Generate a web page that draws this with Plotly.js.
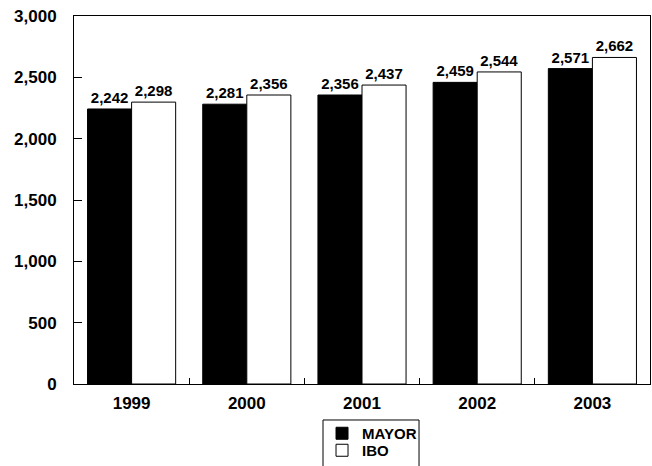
<!DOCTYPE html>
<html>
<head>
<meta charset="utf-8">
<script src="https://cdn.plot.ly/plotly-3.0.1.min.js"></script>
<style>html,body{margin:0;padding:0;background:#fff;}#chart{width:652px;height:466px;}</style>
</head>
<body>
<div id="chart"></div>
<script>
const years = ["1999", "2000", "2001", "2002", "2003"];
const mayor = [2242, 2281, 2356, 2459, 2571];
const ibo = [2298, 2356, 2437, 2544, 2662];
const yTicks = [0, 500, 1000, 1500, 2000, 2500, 3000];

const F = "Liberation Sans, Arial, sans-serif";
const tickFont = {family: F, size: 17, color: "#000", weight: "bold"};
const labelFont = {family: F, size: 15, color: "#000", weight: "bold"};

const traces = [
  {type: "bar", name: "MAYOR", x: years, y: mayor, legend: "legend",
   marker: {color: "#000", line: {color: "#000", width: 1}},
   texttemplate: "%{y:,}", textposition: "outside", cliponaxis: false,
   textfont: labelFont},
  {type: "bar", name: "IBO", x: years, y: ibo, legend: "legend2",
   marker: {color: "#fff", line: {color: "#000", width: 1}},
   texttemplate: "%{y:,}", textposition: "outside", cliponaxis: false,
   textfont: labelFont},
  // invisible helper so the label axis (y2) is drawn
  {type: "scatter", mode: "markers", x: years, y: mayor, yaxis: "y2",
   marker: {opacity: 0}, showlegend: false, hoverinfo: "skip"}
];

const legendBase = {xanchor: "left", yanchor: "top", borderwidth: 0,
  bgcolor: "rgba(0,0,0,0)", font: labelFont, orientation: "v", itemwidth: 30};

const layout = {
  width: 652, height: 466,
  margin: {l: 74, r: 2, t: 16, b: 82, autoexpand: false},
  paper_bgcolor: "#fff", plot_bgcolor: "#fff",
  barmode: "group", bargap: 0.235, bargroupgap: 0,
  showlegend: true,
  legend: Object.assign({}, legendBase, {x: 0.4306, y: -0.0897}),
  legend2: Object.assign({}, legendBase, {x: 0.4306, y: -0.1359}),
  shapes: [{type: "rect", xref: "paper", yref: "paper",
    x0: 0.4323, x1: 0.599, y0: -0.0978, y1: -0.3,
    line: {color: "#000", width: 1}, fillcolor: "rgba(0,0,0,0)"}],
  xaxis: {type: "category", showline: true, linecolor: "#000", linewidth: 1, mirror: true,
    ticks: "inside", tickson: "boundaries", ticklen: 6, tickcolor: "#000",
    tickfont: tickFont, showgrid: false, automargin: false, ticklabelstandoff: 4},
  yaxis: {range: [0, 3000], tickvals: yTicks, showticklabels: false,
    showline: true, linecolor: "#000", linewidth: 1, mirror: true, ticks: "inside", ticklen: 8,
    tickcolor: "#000", showgrid: false, zeroline: false, automargin: false},
  yaxis2: {overlaying: "y", side: "left", anchor: "x", range: [0, 3000], tickvals: yTicks,
    tickformat: ",", ticks: "outside", ticklen: 13, tickcolor: "rgba(0,0,0,0)",
    tickfont: tickFont, showline: false, showgrid: false, zeroline: false, automargin: false}
};

Plotly.newPlot("chart", traces, layout, {displayModeBar: false, staticPlot: true});
</script>
</body>
</html>
